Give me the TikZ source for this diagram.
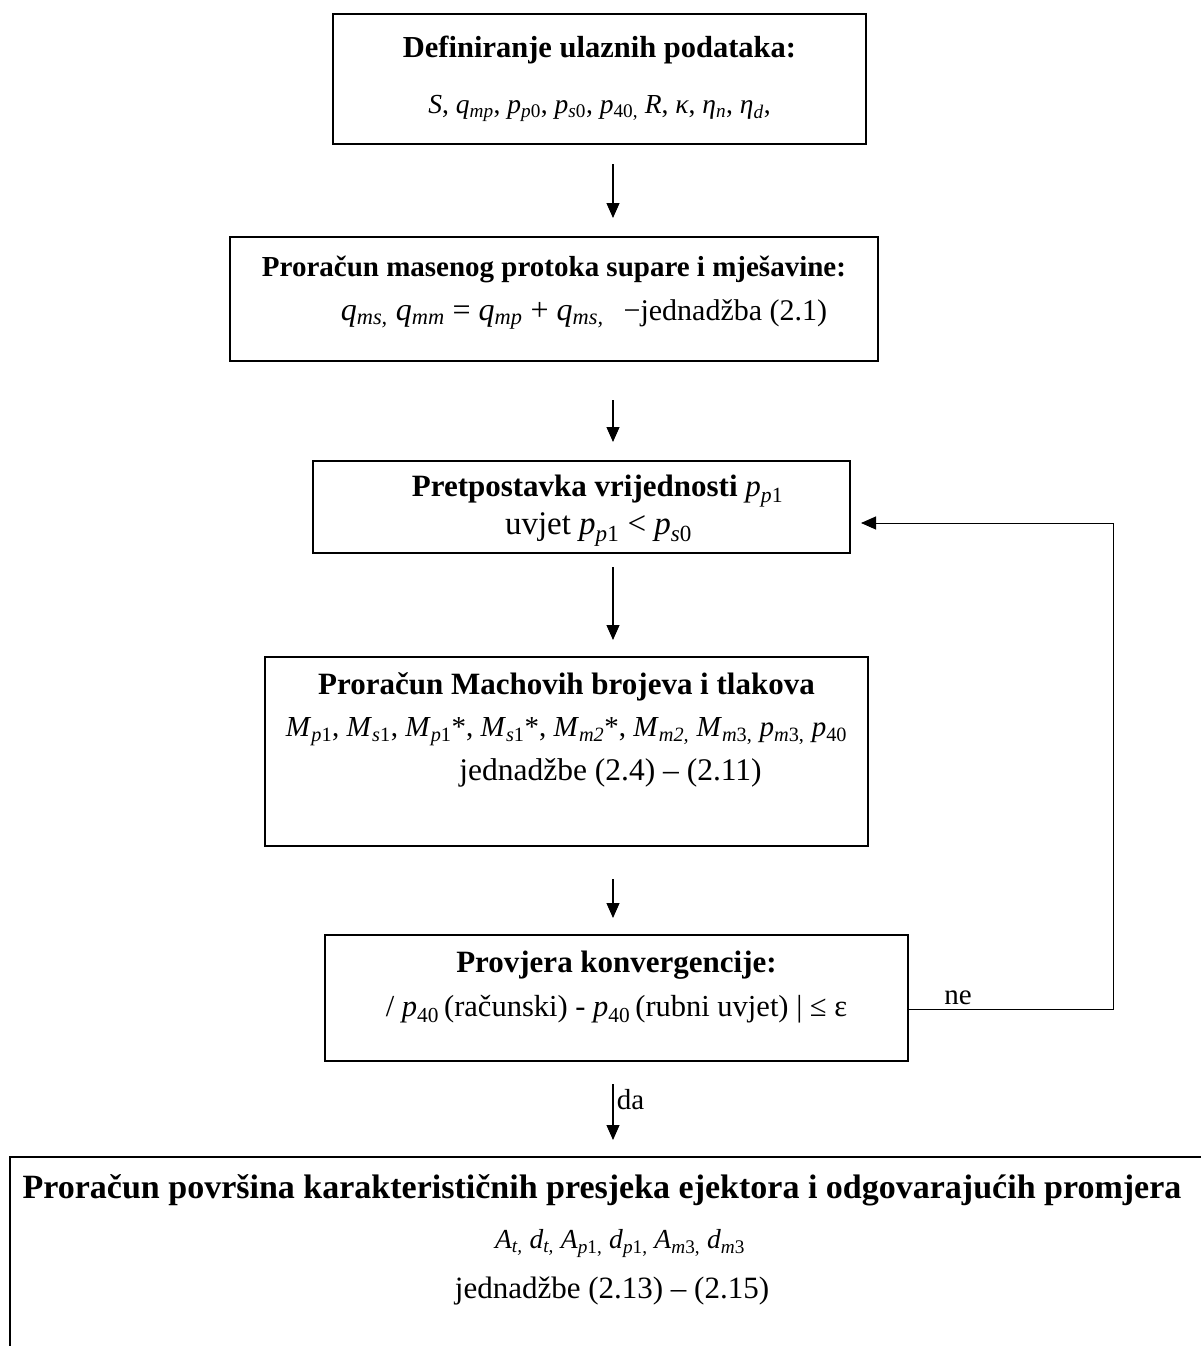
\documentclass[tikz,border=0pt]{standalone}
\usepackage{fontspec}
\setmainfont{Liberation Serif}
\usetikzlibrary{positioning,arrows.meta}

\newcommand{\vv}[2]{\textit{#1}\textsubscript{#2}}
\newcommand{\fs}[1]{\fontsize{#1}{44}\selectfont}
\newcommand{\boxtext}[4]{\begin{minipage}[t][#2][t]{#1}\centering\vspace*{#3}#4\end{minipage}}

\begin{document}
\begin{tikzpicture}[
    x=1pt, y=-1pt,
    box/.style={
        rectangle,
        draw=black,
        line width=2pt,
        inner sep=0pt,
        anchor=north,
        font=\fs{29}
    },
    arr/.style={
        line width=1.1pt,
        -{Triangle[length=15pt,width=13pt]}
    },
    lbl/.style={
        font=\fs{29}
    }
]
    \useasboundingbox (0,0) rectangle (1201,1346);
    \clip (0,0) rectangle (1201,1346);

    \coordinate (axis) at (613,0);

    \node (def) [box] at (599.5,13) {\boxtext{533pt}{130pt}{22pt}{%
        {\fs{30.5}\textbf{Definiranje ulaznih podataka:}}\\[12pt]
        {\fs{27.5}\textit{S}, \vv{q}{\textit{mp}}, \vv{p}{\textit{p}0}, \vv{p}{\textit{s}0}, \vv{p}{40,} \textit{R}, \textit{κ}, \vv{η}{\textit{n}}, \vv{η}{\textit{d}},}}};
    \node (mass) [box] at (554,236) {\boxtext{648pt}{124pt}{19pt}{%
        {\fs{29}\textbf{Proračun masenog protoka supare i mješavine:}}\\
        \hspace*{60pt}{\fs{32}\vv{q}{\textit{ms,}} \vv{q}{\textit{mm}} = \vv{q}{\textit{mp}} + \vv{q}{\textit{ms,}}}\hspace{20pt}{\fs{30}−jednadžba (2.1)}}};
    \node (guess) [box] at (581.5,460) {\boxtext{537pt}{92pt}{14pt}{%
        \hspace*{32pt}{\fs{31}\textbf{Pretpostavka vrijednosti} \vv{p}{\textit{p}1}}\\[-6pt]
        \hspace*{34pt}{\fs{33}uvjet \vv{p}{\textit{p}1} < \vv{p}{\textit{s}0}}}};
    \node (mach) [box] at (566.5,656) {\boxtext{603pt}{189pt}{16pt}{%
        {\fs{31}\textbf{Proračun Machovih brojeva i tlakova}}\\[-2pt]
        {\fs{29}\vv{M}{\textit{p}1}, \vv{M}{\textit{s}1}, \vv{M}{\textit{p}1}*, \vv{M}{\textit{s}1}*, \vv{M}{\textit{m2}}*, \vv{M}{\textit{m2,}} \vv{M}{\textit{m}3,} \vv{p}{\textit{m}3,} \vv{p}{40}}\\
        \hspace*{88pt}{\fs{31.5}jednadžbe (2.4) – (2.11)}}};
    \node (conv) [box] at (616.5,934) {\boxtext{583pt}{126pt}{16pt}{%
        {\fs{31}\textbf{Provjera konvergencije:}}\\
        {\fs{30.5}/ \vv{p}{40}\,(računski) - \vv{p}{40}\,(rubni uvjet) | ≤ ε}}};
    \node (area) [box] at (620,1156) {\boxtext{1220pt}{230pt}{18pt}{%
        \hspace*{-36pt}{\fs{34}\textbf{Proračun površina karakterističnih presjeka ejektora i odgovarajućih promjera}}\\[6pt]
        {\fs{27.5}\vv{A}{\textit{t,}} \vv{d}{\textit{t,}} \vv{A}{\textit{p}1,} \vv{d}{\textit{p}1,} \vv{A}{\textit{m}3,} \vv{d}{\textit{m}3}}\\[6pt]
        \hspace*{-16pt}{\fs{31}jednadžbe (2.13) – (2.15)}}};

    % main flow
    \draw[arr, shorten <=19pt, shorten >=18pt] (def.south -| axis) -- (mass.north -| axis);
    \draw[arr, shorten <=38pt, shorten >=18pt] (mass.south -| axis) -- (guess.north -| axis);
    \draw[arr, shorten <=13pt, shorten >=16pt] (guess.south -| axis) -- (mach.north -| axis);
    \draw[arr, shorten <=32pt, shorten >=16pt] (mach.south -| axis) -- (conv.north -| axis);
    \draw[arr, shorten <=22pt, shorten >=16pt] (conv.south -| axis) -- node[right, pos=0.4, lbl] (yes) {da} (area.north -| axis);

    % loop back
    \coordinate (loopout) at ([yshift=-11pt]conv.east);
    \coordinate (loopturn) at (1113,523);
    \draw[arr, line width=1pt, shorten >=10pt] (loopout) -- node[pos=0.24, above, lbl] (no) {ne} (loopturn |- loopout) -- (loopturn) -- (guess.east |- loopturn);
\end{tikzpicture}
\end{document}
